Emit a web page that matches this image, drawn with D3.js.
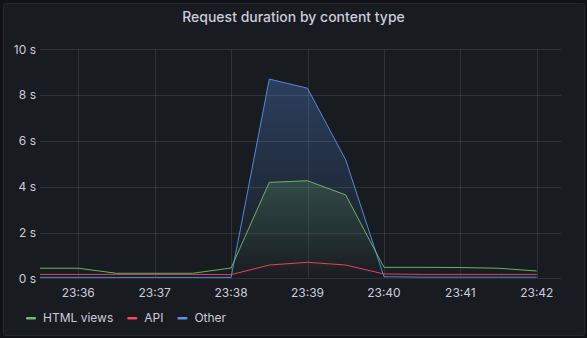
<!DOCTYPE html>
<html>
<head>
<meta charset="utf-8">
<style>
  body { margin: 0; background: #111217; font-family: Inter, "Noto Sans", sans-serif; }
  text { font-family: Inter, "Noto Sans", sans-serif; }
</style>
<script src="https://d3js.org/d3.v7.min.js"></script>
</head>
<body>
<script>

    // sample times, every 30 s
    var times = ["23:35:30","23:36:00","23:36:30","23:37:00","23:37:30","23:38:00","23:38:30",
                 "23:39:00","23:39:30","23:40:00","23:40:30","23:41:00","23:41:30","23:42:00"];
    var htmlViews = [0.44,0.44,0.22,0.22,0.22,0.45,4.19,4.26,3.64,0.48,0.48,0.47,0.44,0.32];
    var api       = [0.17,0.17,0.17,0.17,0.17,0.16,0.58,0.70,0.58,0.19,0.17,0.17,0.17,0.17];
    var other     = [0.04,0.04,0.04,0.04,0.04,0.04,8.70,8.30,5.17,0.07,0.05,0.05,0.05,0.05];
    var yTicks = [0, 2, 4, 6, 8, 10];
    var xTicks = ["23:36","23:37","23:38","23:39","23:40","23:41","23:42"];

    var series = [
      {name: "HTML views", values: htmlViews, color: "#73BF69", fill: 0.2},
      {name: "API",        values: api,       color: "#F2495C", fill: 0.04},
      {name: "Other",      values: other,     color: "#5794F2", fill: 0.3}
    ];

    var width = 587, height = 338;
    var parse = d3.timeParse("%H:%M:%S");

    var svg = d3.select("body").append("svg")
        .attr("width", width)
        .attr("height", height);

    // panel
    svg.append("rect")
        .attr("x", 3.5).attr("y", 3.5)
        .attr("width", width - 6).attr("height", height - 6)
        .attr("rx", 2)
        .attr("fill", "#181b1f")
        .attr("stroke", "#25272c");

    svg.append("text")
        .attr("x", width / 2).attr("y", 22)
        .attr("text-anchor", "middle")
        .attr("fill", "#ccccdc")
        .attr("font-size", 14)
        .attr("font-weight", 500)
        .text("Request duration by content type");

    var x = d3.scaleTime()
        .domain([parse("23:35:30"), parse("23:42:19")])
        .range([40, 561]);

    var y = d3.scaleLinear()
        .domain([0, 10])
        .range([278.3, 49.3]);

    // gradient fills
    var defs = svg.append("defs");
    series.forEach(function(s, i) {
      var g = defs.append("linearGradient")
          .attr("id", "grad" + i)
          .attr("gradientUnits", "userSpaceOnUse")
          .attr("x1", 0).attr("x2", 0)
          .attr("y1", y(d3.max(s.values))).attr("y2", y(0));
      g.append("stop").attr("offset", 0).attr("stop-color", s.color).attr("stop-opacity", s.fill);
      g.append("stop").attr("offset", 1).attr("stop-color", s.color).attr("stop-opacity", 0);
    });

    var area = d3.area()
        .x(function(d, i) { return x(parse(times[i])); })
        .y0(y(0))
        .y1(function(d) { return y(d); });

    var line = d3.line()
        .x(function(d, i) { return x(parse(times[i])); })
        .y(function(d) { return y(d); });

    // draw biggest first
    [2, 0, 1].forEach(function(i) {
      svg.append("path")
        .attr("d", area(series[i].values))
        .attr("fill", "url(#grad" + i + ")");
    });

    // grid (over the fills)
    var grid = svg.append("g");
    grid.selectAll("line.h")
      .data(yTicks)
      .enter().append("line")
        .attr("x1", 40).attr("x2", 561)
        .attr("y1", function(d) { return Math.round(y(d)) + 0.5; })
        .attr("y2", function(d) { return Math.round(y(d)) + 0.5; })
        .attr("stroke", "rgba(204,204,220,0.13)");
    grid.selectAll("line.v")
      .data(xTicks)
      .enter().append("line")
        .attr("y1", y(10)).attr("y2", y(0))
        .attr("x1", function(d) { return Math.round(x(parse(d + ":00"))) + 0.5; })
        .attr("x2", function(d) { return Math.round(x(parse(d + ":00"))) + 0.5; })
        .attr("stroke", "rgba(204,204,220,0.13)");

    [2, 0, 1].forEach(function(i) {
      svg.append("path")
        .attr("d", line(series[i].values))
        .attr("fill", "none")
        .attr("stroke", series[i].color)
        .attr("stroke-opacity", 0.9)
        .attr("stroke-width", 1);
    });

    // axes labels
    svg.selectAll("text.ytick")
      .data(yTicks)
      .enter().append("text")
        .attr("x", 36)
        .attr("y", function(d) { return y(d); })
        .attr("dy", "0.35em")
        .attr("text-anchor", "end")
        .attr("fill", "#ccccdc")
        .attr("font-size", 12)
        .text(function(d) { return d + " s"; });

    svg.selectAll("text.xtick")
      .data(xTicks)
      .enter().append("text")
        .attr("x", function(d) { return x(parse(d + ":00")); })
        .attr("y", 297)
        .attr("text-anchor", "middle")
        .attr("fill", "#ccccdc")
        .attr("font-size", 12)
        .text(function(d) { return d; });

    // legend
    var lx = 26;
    series.forEach(function(s) {
      var g = svg.append("g").attr("transform", "translate(" + lx + ",318)");
      g.append("rect")
        .attr("x", 0).attr("y", -1)
        .attr("width", 10).attr("height", 2.5)
        .attr("rx", 1)
        .attr("fill", s.color);
      var t = g.append("text")
        .attr("x", 17).attr("dy", "0.35em")
        .attr("fill", "#ccccdc")
        .attr("font-size", 12)
        .text(s.name);
      lx += 17 + t.node().getComputedTextLength() + 14;
    });

</script>
</body>
</html>
